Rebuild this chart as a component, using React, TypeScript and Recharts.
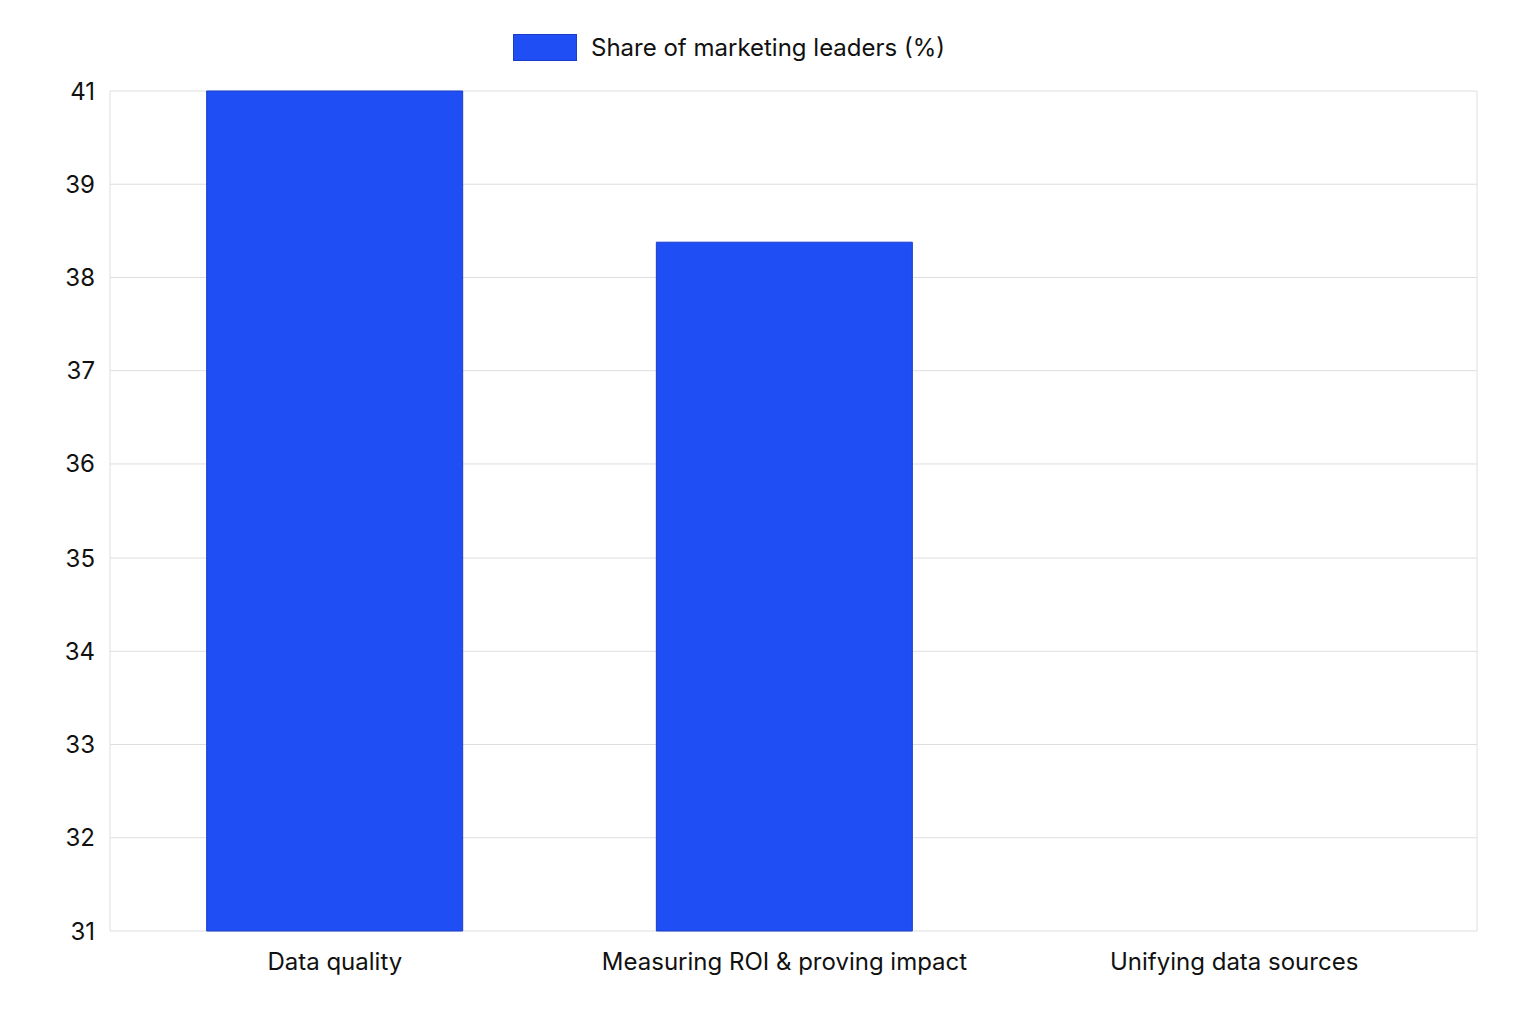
import React from 'react';
import { BarChart, Bar, XAxis, YAxis, CartesianGrid, Legend } from 'recharts';

const categories = ['Data quality', 'Measuring ROI & proving impact', 'Unifying data sources'];
const shareValues = [41, 39.2, 31];
const yTicks = [31, 32.11, 33.22, 34.33, 35.44, 36.56, 37.67, 38.78, 39.89, 41];
const yTickLabels = ['31', '32', '33', '34', '35', '36', '37', '38', '39', '41'];

const seriesName = 'Share of marketing leaders (%)';
const barFill = '#1f4ef5';
const barStroke = '#1a3ec8';

const data = categories.map((name, i) => ({ name, share: shareValues[i] }));

const LegendContent = () => (
    <div style={{ display: 'flex', alignItems: 'center', marginLeft: 505 }}>
        <span
            style={{
                display: 'inline-block',
                width: 64,
                height: 27,
                background: barFill,
                border: `1px solid ${barStroke}`,
                boxSizing: 'border-box',
                marginRight: 14,
            }}
        />
        <span style={{ fontSize: 24, color: '#111' }}>{seriesName}</span>
    </div>
);

export default function App() {
    return (
        <div style={{ fontFamily: 'Inter, "Noto Sans", sans-serif' }}>
            <BarChart
                width={1520}
                height={1008}
                data={data}
                margin={{ top: 54, right: 51, bottom: 0, left: 0 }}
                barCategoryGap="21.5%"
            >
                <CartesianGrid
                    stroke="#dedede"
                    verticalCoordinatesGenerator={({ offset }) => [offset.left, offset.left + offset.width]}
                />
                <XAxis
                    dataKey="name"
                    axisLine={false}
                    tickLine={false}
                    tickMargin={16}
                    height={85}
                    padding={{ left: 0, right: 18 }}
                    tick={{ fill: '#111', fontSize: 24 }}
                />
                <YAxis
                    domain={[31, 41]}
                    ticks={yTicks}
                    interval={0}
                    axisLine={false}
                    tickLine={false}
                    tickMargin={9}
                    width={102}
                    tickFormatter={(v, i) => yTickLabels[i] ?? String(v)}
                    tick={{ fill: '#111', fontSize: 24 }}
                />
                <Legend
                    verticalAlign="top"
                    content={<LegendContent />}
                    wrapperStyle={{ top: 25, left: 0, width: 1520 }}
                />
                <Bar
                    dataKey="share"
                    name={seriesName}
                    fill={barFill}
                    stroke={barStroke}
                    strokeWidth={1}
                    isAnimationActive={false}
                />
            </BarChart>
        </div>
    );
}
